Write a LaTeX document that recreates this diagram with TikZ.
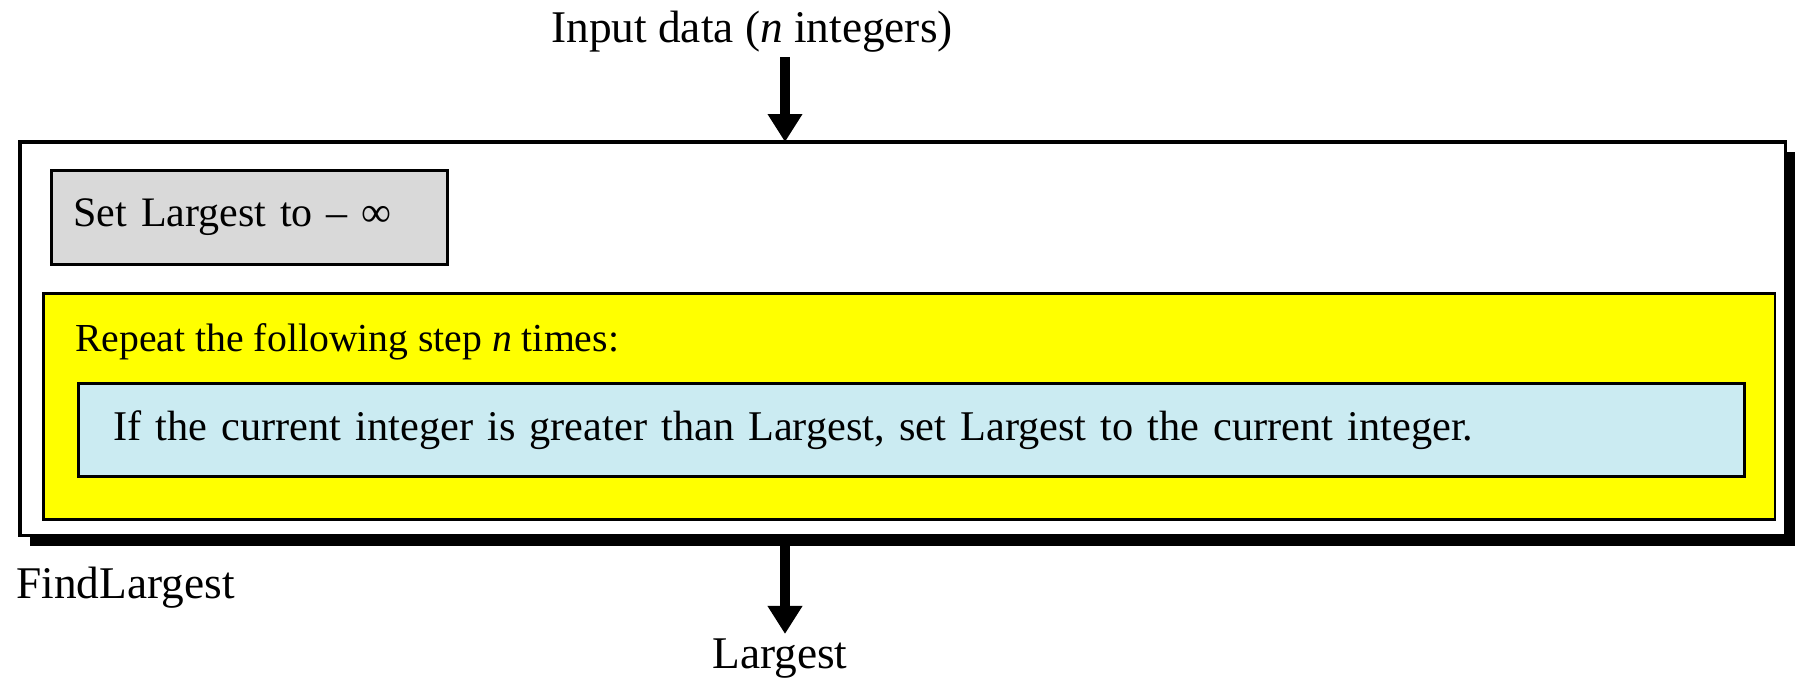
\documentclass[tikz,border=0pt]{standalone}
\usepackage{fontspec}
\setmainfont{Liberation Serif}
\usepackage{xcolor}
\usetikzlibrary{arrows.meta, positioning, shadows}
\definecolor{initgray}{RGB}{217,217,217}
\definecolor{loopyellow}{RGB}{255,255,0}
\definecolor{stepblue}{RGB}{203,235,242}

\begin{document}
\begin{tikzpicture}[x=0.02cm, y=-0.02cm,
    % hộp chung: góc trên trái đặt tại tọa độ pixel
    box/.style={draw, line width=1.6pt, anchor=north west, inner ysep=0pt, align=left},
    lbl/.style={inner sep=0pt, font=\fontsize{25.8}{30}\selectfont},
    flow/.style={-{Triangle[width=0.66cm, length=0.56cm]}, line width=0.21cm}]

    \useasboundingbox (0,0) rectangle (1798,679);

    % khung ngoài có bóng đổ
    \node[box, line width=2pt, fill=white, minimum width=35.32cm, minimum height=7.88cm,
          drop shadow={shadow xshift=0.2cm, shadow yshift=-0.2cm, opacity=1, fill=black}]
          (findbox) at (18,140) {};

    \node[box, fill=initgray, minimum width=7.92cm, minimum height=1.88cm, inner xsep=0.44cm,
          text width=7.04cm, font=\fontsize{23.9}{29}\selectfont] (init) at (50,169) {Set Largest to – ∞};

    \node[box, fill=loopyellow, minimum width=34.64cm, minimum height=4.52cm] (loopbox) at (42,292) {};
    \node[lbl, anchor=base west, font=\fontsize{22.6}{27}\selectfont] (looplabel) at (75,351)
          {Repeat the following step \textit{n} times:};

    \node[box, fill=stepblue, minimum width=33.32cm, minimum height=1.86cm, inner xsep=0.7cm,
          text width=31.92cm, font=\fontsize{24.1}{29}\selectfont] (stepbox) at (77,382)
          {If the current integer is greater than Largest, set Largest to the current integer.};

    % nhãn vào / ra
    \node[lbl, anchor=base] (input) at (752,43) {Input data (\textit{n} integers)};
    \node[lbl, anchor=base west] (fname) at (16,598) {FindLargest};
    \coordinate (inpt) at (785,142);
    \coordinate (outpt) at (785,534);
    \node[lbl, anchor=base] (result) at (780,668) {Largest};

    % mũi tên
    \draw[flow] ([yshift=-0.08cm]input.south -| inpt) -- (inpt);
    \draw[flow] (outpt) -- ([yshift=0.08cm]outpt |- result.north);
\end{tikzpicture}
\end{document}
